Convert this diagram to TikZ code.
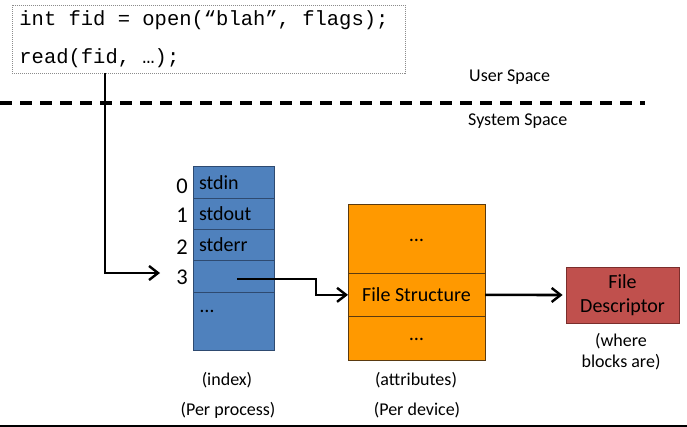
\documentclass[tikz,border=0pt]{standalone}
\usepackage{fontspec}
\setmainfont{Carlito}
\newfontfamily\codefont{Liberation Mono}
\usetikzlibrary{arrows.meta}
\definecolor{idxblue}{HTML}{4F81BD}
\definecolor{idxborder}{HTML}{2E4A70}
\definecolor{fsorange}{HTML}{FF9900}
\definecolor{fsborder}{HTML}{5A3A10}
\definecolor{fdred}{HTML}{C0504D}
\definecolor{fdborder}{HTML}{7A2E2C}
\newcommand{\csp}{\hphantom{0}}
\begin{document}
\begin{tikzpicture}[x=1pt,y=-1pt,
  cell/.style={draw=idxborder, fill=idxblue, line width=0.8pt, anchor=north west,
    minimum width=81pt, inner xsep=6pt, inner ysep=0pt, outer sep=0pt,
    text width=69pt, align=left, font=\fontsize{20}{24}\selectfont},
  fscell/.style={draw=fsborder, fill=fsorange, line width=0.8pt, anchor=north west,
    minimum width=137pt, inner sep=0pt, outer sep=0pt, font=\fontsize{20}{24}\selectfont},
  digit/.style={anchor=east, inner sep=0pt, font=\fontsize{22.5}{26}\selectfont},
  lbl/.style={inner sep=0pt, font=\fontsize{18}{21}\selectfont},
  arr/.style={line width=2.6pt, -{Straight Barb[length=9pt,width=14pt,line width=2.4pt]}},
]
\useasboundingbox (0,0) rectangle (687,427);

% code box
\node[draw=black!45, line width=0.8pt, dash pattern=on 1pt off 1pt, anchor=north west,
  minimum width=393pt, minimum height=68pt, inner xsep=7pt, inner ysep=0pt,
  text width=379pt, align=left, font=\codefont\fontsize{20.5}{38}\selectfont]
  (code) at (12,5) {int\csp fid\csp=\csp open(“blah”,\csp flags);\\read(fid,\csp …);};

% user/system boundary
\draw[line width=3.5pt, dash pattern=on 12pt off 8pt] (0,103) -- (645,103);
\node[lbl, anchor=west] (user) at (469,77) {User Space};
\node[lbl, anchor=west] (sys) at (468,121) {System Space};

% index table
\node[cell, minimum height=31.3pt] (i0) at (193,166.7) {stdin};
\node[cell, minimum height=31.3pt] (i1) at (193,198) {stdout};
\node[cell, minimum height=31.3pt] (i2) at (193,229.3) {stderr};
\node[cell, minimum height=31.4pt] (i3) at (193,260.6) {};
\node[cell, minimum height=58pt] (i4) at (193,292) {};
\node[anchor=north west, inner sep=0pt, font=\fontsize{20}{24}\selectfont] (i4t) at (200,310) {…};
\node[digit] (d0) at (188,186) {0};
\node[digit] (d1) at (188,215.5) {1};
\node[digit] (d2) at (188,247) {2};
\node[digit] (d3) at (188,277) {3};
\node[lbl] (idxl) at (227,380) {(index)};
\node[lbl] (idxp) at (228,410) {(Per process)};

% file structure
\node[fscell, minimum height=68.7pt] (fs1) at (348,204.3) {\raisebox{-5pt}{…}};
\node[fscell, minimum height=43.7pt] (fs) at (348,273) {File Structure};
\node[fscell, minimum height=43.3pt] (fs3) at (348,316.7) {\raisebox{-5pt}{…}};
\node[lbl] (attl) at (416,380) {(attributes)};
\node[lbl] (attp) at (417,410) {(Per device)};

% file descriptor
\node[draw=fdborder, fill=fdred, line width=0.8pt, minimum width=113pt, minimum height=56pt,
  inner sep=0pt, align=center, font=\fontsize{20}{24}\selectfont] (fd) at (622.5,295) {File\\Descriptor};
\node[lbl, align=center, font=\fontsize{18}{21}\selectfont] (fdl) at (621,352) {(where\\blocks are)};

% connectors
\coordinate (cstart) at (105,73);
\coordinate (a3) at (160,273);
\coordinate (p3) at (237,279);
\draw[arr] (cstart) |- (a3);
\draw[arr] (p3) -- ++(79,0) |- (fs.west);
\draw[arr] (fs.east) -- ([xshift=-3pt]fd.west);

% bottom rule
\draw[line width=1.5pt] (0,426) -- (687,426);
\end{tikzpicture}
\end{document}
